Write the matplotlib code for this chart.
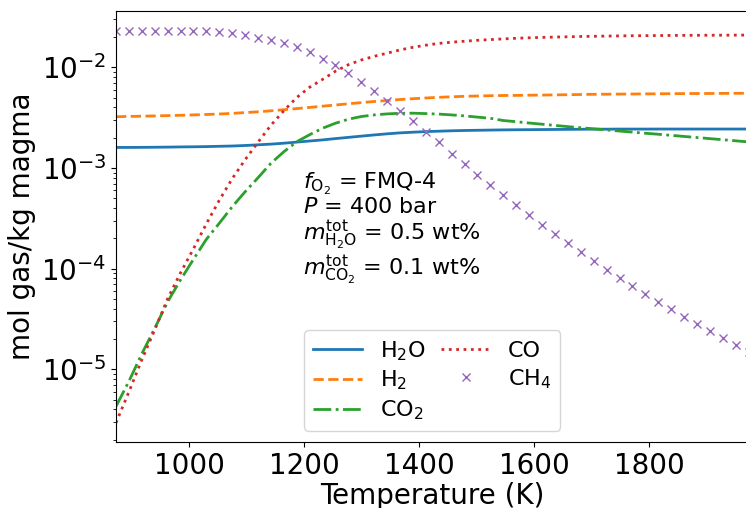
import numpy as np
import matplotlib
matplotlib.use("Agg")
import matplotlib.pyplot as plt

# Temperature grid (K)
T = np.linspace(873, 1973, 50)

h2o = [1.597e-3, 1.597e-3, 1.600e-3, 1.604e-3, 1.609e-3, 1.616e-3, 1.620e-3, 1.628e-3, 1.639e-3, 1.650e-3,
       1.669e-3, 1.696e-3, 1.723e-3, 1.759e-3, 1.804e-3, 1.850e-3, 1.897e-3, 1.955e-3, 2.010e-3, 2.068e-3,
       2.125e-3, 2.180e-3, 2.228e-3, 2.262e-3, 2.294e-3, 2.315e-3, 2.337e-3, 2.353e-3, 2.364e-3, 2.375e-3,
       2.386e-3, 2.392e-3, 2.397e-3, 2.403e-3, 2.408e-3, 2.414e-3, 2.419e-3, 2.425e-3, 2.425e-3, 2.430e-3,
       2.430e-3, 2.430e-3, 2.432e-3, 2.432e-3, 2.432e-3, 2.432e-3, 2.432e-3, 2.432e-3, 2.432e-3, 2.432e-3]

h2 = [3.224e-3, 3.246e-3, 3.261e-3, 3.283e-3, 3.306e-3, 3.329e-3, 3.360e-3, 3.391e-3, 3.430e-3, 3.478e-3,
      3.542e-3, 3.606e-3, 3.690e-3, 3.784e-3, 3.881e-3, 3.989e-3, 4.100e-3, 4.214e-3, 4.331e-3, 4.452e-3,
      4.565e-3, 4.670e-3, 4.778e-3, 4.866e-3, 4.945e-3, 5.024e-3, 5.082e-3, 5.141e-3, 5.176e-3, 5.212e-3,
      5.236e-3, 5.248e-3, 5.272e-3, 5.284e-3, 5.309e-3, 5.333e-3, 5.357e-3, 5.382e-3, 5.394e-3, 5.407e-3,
      5.419e-3, 5.432e-3, 5.444e-3, 5.457e-3, 5.469e-3, 5.482e-3, 5.482e-3, 5.494e-3, 5.507e-3, 5.507e-3]

co2 = [4.29e-6, 7.60e-6, 1.426e-5, 2.555e-5, 4.684e-5, 7.745e-5, 1.238e-4, 1.956e-4, 2.821e-4, 4.114e-4,
       5.798e-4, 7.988e-4, 1.112e-3, 1.447e-3, 1.820e-3, 2.136e-3, 2.478e-3, 2.778e-3, 3.045e-3, 3.238e-3,
       3.360e-3, 3.438e-3, 3.486e-3, 3.494e-3, 3.462e-3, 3.422e-3, 3.360e-3, 3.283e-3, 3.194e-3, 3.108e-3,
       2.955e-3, 2.875e-3, 2.791e-3, 2.715e-3, 2.642e-3, 2.570e-3, 2.506e-3, 2.443e-3, 2.383e-3, 2.323e-3,
       2.266e-3, 2.209e-3, 2.159e-3, 2.106e-3, 2.053e-3, 2.003e-3, 1.953e-3, 1.905e-3, 1.858e-3, 1.811e-3]

co = [2.942e-6, 5.978e-6, 1.243e-5, 2.469e-5, 5.017e-5, 9.093e-5, 1.574e-4, 2.789e-4, 4.774e-4, 7.806e-4,
      1.206e-3, 1.799e-3, 2.653e-3, 3.698e-3, 5.000e-3, 6.327e-3, 7.565e-3, 9.127e-3, 1.059e-2, 1.179e-2,
      1.283e-2, 1.378e-2, 1.485e-2, 1.576e-2, 1.654e-2, 1.723e-2, 1.771e-2, 1.812e-2, 1.850e-2, 1.880e-2,
      1.910e-2, 1.937e-2, 1.959e-2, 1.977e-2, 1.991e-2, 2.004e-2, 2.018e-2, 2.027e-2, 2.037e-2, 2.046e-2,
      2.053e-2, 2.058e-2, 2.062e-2, 2.067e-2, 2.070e-2, 2.074e-2, 2.077e-2, 2.079e-2, 2.082e-2, 2.084e-2]

ch4 = [2.29e-2, 2.29e-2, 2.29e-2, 2.29e-2, 2.29e-2, 2.29e-2, 2.29e-2, 2.29e-2, 2.26e-2, 2.17e-2,
       2.07e-2, 1.96e-2, 1.86e-2, 1.74e-2, 1.57e-2, 1.40e-2, 1.22e-2, 1.05e-2, 8.71e-3, 7.17e-3,
       5.82e-3, 4.65e-3, 3.67e-3, 2.90e-3, 2.29e-3, 1.79e-3, 1.39e-3, 1.09e-3, 8.55e-4, 6.70e-4,
       5.33e-4, 4.26e-4, 3.40e-4, 2.72e-4, 2.20e-4, 1.78e-4, 1.45e-4, 1.19e-4, 9.73e-5, 8.05e-5,
       6.71e-5, 5.59e-5, 4.67e-5, 3.93e-5, 3.31e-5, 2.81e-5, 2.40e-5, 2.04e-5, 1.74e-5, 1.50e-5]

labels = ["H$_2$O", "H$_2$", "CO$_2$", "CO", "CH$_4$"]

fig = plt.figure(figsize=(7.46, 5.08), dpi=100)
ax = fig.add_axes([0.1555, 0.13, 0.848, 0.848])

ax.plot(T, h2o, color="tab:blue", lw=2, ls="-", label=labels[0])
ax.plot(T, h2, color="tab:orange", lw=2, ls="--", label=labels[1])
ax.plot(T, co2, color="tab:green", lw=2, ls="-.", label=labels[2])
ax.plot(T, co, color="tab:red", lw=2, ls=":", label=labels[3])
ax.plot(T, ch4, color="tab:purple", ls="none", marker="x", ms=6, label=labels[4])

ax.set_yscale("log")
ax.set_xlim(873, 1973)
ax.set_ylim(1.9e-6, 3.6e-2)
ax.set_xticks([1000, 1200, 1400, 1600, 1800])
ax.tick_params(labelsize=20)
ax.set_xlabel("Temperature (K)", fontsize=20, labelpad=2)
ax.set_ylabel("mol gas/kg magma", fontsize=20)

ax.text(0.295, 0.63,
        "$f_{\\mathrm{O_2}}$ = FMQ-4\n$P$ = 400 bar\n"
        "$m^{\\mathrm{tot}}_{\\mathrm{H_2O}}$ = 0.5 wt%\n"
        "$m^{\\mathrm{tot}}_{\\mathrm{CO_2}}$ = 0.1 wt%",
        transform=ax.transAxes, fontsize=16, va="top", ha="left", linespacing=1.05)

ax.legend(ncol=2, loc="lower center", fontsize=16, handlelength=2.2,
          columnspacing=0.7, labelspacing=0.27)

fig.savefig("out.png", dpi=100)
